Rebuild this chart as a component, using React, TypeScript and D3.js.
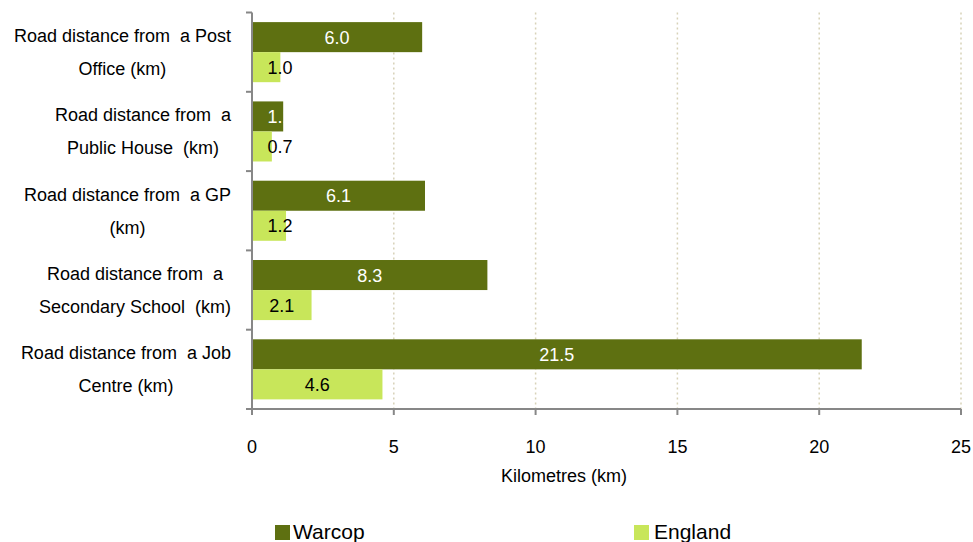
import React, { useMemo } from "react";
import * as d3 from "d3";

const categories: string[][] = [
  ["Road distance from  a Post", "Office (km)"],
  ["Road distance from  a", "Public House  (km)"],
  ["Road distance from  a GP", "(km)"],
  ["Road distance from  a", "Secondary School  (km)"],
  ["Road distance from  a Job", "Centre (km)"],
];
const warcop: number[] = [6.0, 1.1, 6.1, 8.3, 21.5];
const england: number[] = [1.0, 0.7, 1.2, 2.1, 4.6];
const xTicks: number[] = [0, 5, 10, 15, 20, 25];
const seriesNames = ["Warcop", "England"];

const W = 973;
const H = 542;
const WARCOP_COLOR = "#5E7011";
const ENGLAND_COLOR = "#C8E65A";
const AXIS_COLOR = "#878787";
const GRID_COLOR = "#D8D2B8";
const FONT = "'Liberation Sans', Arial, sans-serif";
const FS = 18;

function measure(text: string): number {
  const c = document.createElement("canvas");
  const ctx = c.getContext("2d");
  if (!ctx) return text.length * 8;
  ctx.font = `${FS}px 'Liberation Sans', Arial, sans-serif`;
  return ctx.measureText(text).width;
}

export default function App() {
  const x = d3.scaleLinear().domain([0, 25]).range([252, 961]);
  const y = d3
    .scaleBand<number>()
    .domain(categories.map((_, i) => i))
    .range([12.5, 409])
    .paddingInner(0)
    .paddingOuter(0);
  const inner = d3
    .scaleBand<string>()
    .domain(seriesNames)
    .range([0, y.bandwidth()])
    .paddingOuter(0.32)
    .paddingInner(0);

  const blockWidths = useMemo(
    () => categories.map((lines) => Math.max(...lines.map((l) => measure(l)))),
    []
  );

  const bandEdges = categories.map((_, i) => y(i)!).concat([409]);

  const labelX = (v: number) => Math.max((x(0) + x(v)) / 2, x(0) + 28);

  return (
    <svg
      width={W}
      height={H}
      style={{ position: "absolute", left: 0, top: 0, background: "#fff" }}
      fontFamily={FONT}
    >
      {/* gridlines */}
      {xTicks.slice(1).map((t) => (
        <line
          key={"g" + t}
          x1={x(t)}
          x2={x(t)}
          y1={12.5}
          y2={409}
          stroke={GRID_COLOR}
          strokeWidth={1.5}
          strokeDasharray="2,3"
        />
      ))}
      {/* bars */}
      {categories.map((_, i) => {
        const y0 = y(i)!;
        const yw = y0 + inner("Warcop")!;
        const ye = y0 + inner("England")!;
        const bh = inner.bandwidth();
        return (
          <g key={"c" + i}>
            <rect x={x(0)} y={yw} width={x(warcop[i]) - x(0)} height={bh} fill={WARCOP_COLOR} />
            <rect x={x(0)} y={ye} width={x(england[i]) - x(0)} height={bh} fill={ENGLAND_COLOR} />
            <text
              x={labelX(warcop[i])}
              y={yw + bh / 2 + 6.5}
              textAnchor="middle"
              fontSize={FS}
              fill="#FFFFFF"
            >
              {warcop[i].toFixed(1)}
            </text>
            <text
              x={labelX(england[i])}
              y={ye + bh / 2 + 6.5}
              textAnchor="middle"
              fontSize={FS}
              fill="#000000"
            >
              {england[i].toFixed(1)}
            </text>
          </g>
        );
      })}
      {/* y axis */}
      <line x1={x(0)} x2={x(0)} y1={12.5} y2={415} stroke={AXIS_COLOR} strokeWidth={2} />
      {bandEdges.map((e, i) => (
        <line key={"yt" + i} x1={246} x2={x(0)} y1={e} y2={e} stroke={AXIS_COLOR} strokeWidth={2} />
      ))}
      {/* x axis */}
      <line x1={246} x2={x(25)} y1={409} y2={409} stroke={AXIS_COLOR} strokeWidth={2} />
      {xTicks.map((t) => (
        <g key={"xt" + t}>
          <line x1={x(t)} x2={x(t)} y1={409} y2={415} stroke={AXIS_COLOR} strokeWidth={2} />
          <text x={x(t)} y={453} textAnchor="middle" fontSize={FS} fill="#000">
            {t}
          </text>
        </g>
      ))}
      <text x={564} y={482} textAnchor="middle" fontSize={FS} fill="#000">
        Kilometres (km)
      </text>
      {/* category labels: block right-aligned to the axis, lines centred in block */}
      {categories.map((lines, i) => {
        const cy = y(i)! + y.bandwidth() / 2;
        const cx = 231 - blockWidths[i] / 2;
        return (
          <text key={"cl" + i} textAnchor="middle" fontSize={FS} fill="#000">
            {lines.map((l, j) => (
              <tspan key={j} x={cx} y={cy - 16.5 + j * 33 + 6.5} style={{ whiteSpace: "pre" }}>
                {l}
              </tspan>
            ))}
          </text>
        );
      })}
      {/* legend */}
      <rect x={275} y={525} width={15} height={15} fill={WARCOP_COLOR} />
      <text x={293} y={539} fontSize={21} fill="#000">
        {seriesNames[0]}
      </text>
      <rect x={634} y={525} width={15} height={15} fill={ENGLAND_COLOR} />
      <text x={654} y={539} fontSize={21} fill="#000">
        {seriesNames[1]}
      </text>
    </svg>
  );
}
